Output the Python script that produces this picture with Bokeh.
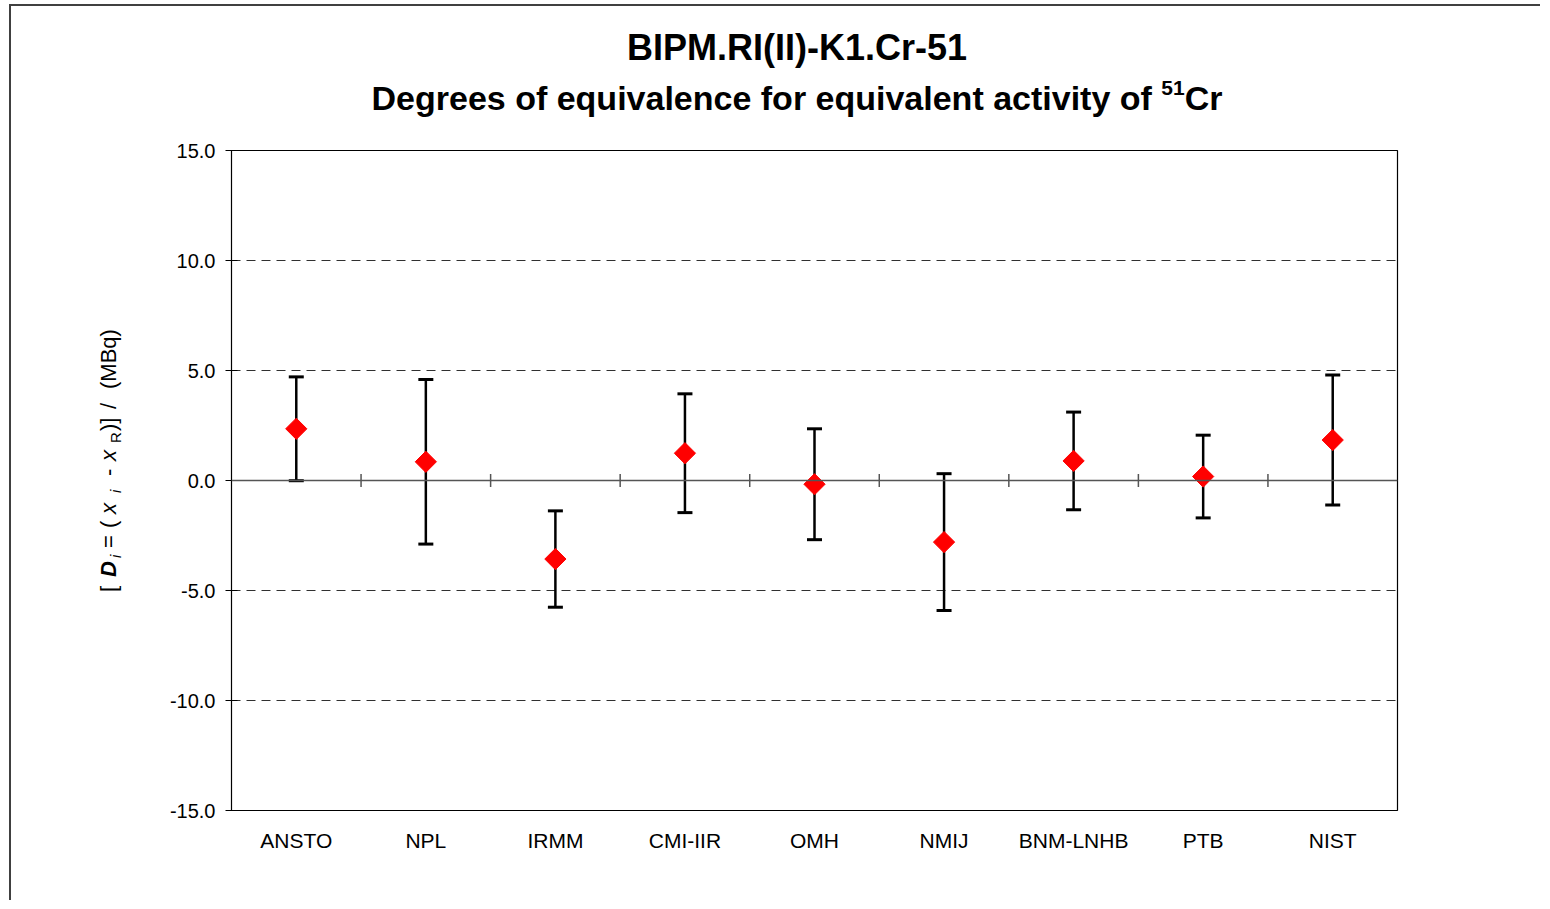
import math
from bokeh.plotting import figure
from bokeh.models import (FactorRange, Range1d, FixedTicker, PrintfTickFormatter,
                          Span, ColumnDataSource, Div)
from bokeh.layouts import column, row
from bokeh.transform import dodge
from bokeh.embed import file_html
from bokeh.resources import INLINE

# ---------------- data ----------------
categories = ["ANSTO", "NPL", "IRMM", "CMI-IIR", "OMH", "NMIJ", "BNM-LNHB", "PTB", "NIST"]
D_values = [2.35, 0.85, -3.57, 1.24, -0.17, -2.80, 0.89, 0.18, 1.84]
U_values = [2.36, 3.74, 2.19, 2.70, 2.52, 3.11, 2.22, 1.88, 2.95]
y_ticks = [-15, -10, -5, 0, 5, 10, 15]
grid_ticks = [-10, -5, 5, 10]
title1 = "BIPM.RI(II)-K1.Cr-51"
title2 = "Degrees of equivalence for equivalent activity of"
title2_sup = "51"
title2_end = "Cr"

FONT = "Liberation Sans"

lower = [d - u for d, u in zip(D_values, U_values)]
upper = [d + u for d, u in zip(D_values, U_values)]
src = ColumnDataSource(dict(cat=categories, d=D_values, lo=lower, hi=upper))
bsrc = ColumnDataSource(dict(cat=categories[1:], y=[0] * (len(categories) - 1)))

# ---------------- layout (page px) ----------------
TITLE_H = 130
YLAB_W = 150
PW, PH = 1390, 770
FRAME_L, FRAME_T, FRAME_W, FRAME_H = 231, 150, 1166, 660
BORDER = "#404040"

p = figure(x_range=FactorRange(*categories), y_range=Range1d(-15, 15),
           width=PW, height=PH, output_backend="svg", toolbar_location=None,
           min_border_left=FRAME_L - YLAB_W, min_border_top=FRAME_T - TITLE_H,
           min_border_right=PW - (FRAME_L - YLAB_W) - FRAME_W,
           min_border_bottom=PH - (FRAME_T - TITLE_H) - FRAME_H)
p.x_range.range_padding = 0
p.background_fill_color = "white"
p.border_fill_color = "white"
p.outline_line_color = "black"
p.outline_line_width = 1.2

# grid
p.xgrid.grid_line_color = None
p.ygrid.ticker = FixedTicker(ticks=grid_ticks)
p.ygrid.grid_line_color = "#303030"
p.ygrid.grid_line_dash = "9 6"
p.ygrid.grid_line_width = 1

# y axis
p.yaxis.ticker = FixedTicker(ticks=y_ticks)
p.yaxis.formatter = PrintfTickFormatter(format="%.1f")
p.yaxis.axis_line_color = "black"
p.yaxis.major_tick_line_color = "black"
p.yaxis.major_tick_in = 6
p.yaxis.major_tick_out = 6
p.yaxis.minor_tick_line_color = None
p.yaxis.major_label_standoff = 10
p.yaxis.major_label_text_font = FONT
p.yaxis.major_label_text_font_size = "20px"
p.yaxis.major_label_text_color = "black"

# x axis (labels only)
p.xaxis.axis_line_color = None
p.xaxis.major_tick_line_color = None
p.xaxis.minor_tick_line_color = None
p.xaxis.major_label_standoff = 12
p.xaxis.major_label_text_font = FONT
p.xaxis.major_label_text_font_size = "21px"
p.xaxis.major_label_text_color = "black"

# zero line with category-boundary ticks
p.add_layout(Span(location=0, dimension="width", line_color="#555555", line_width=1.5))
p.scatter(x=dodge("cat", -0.5, range=p.x_range), y="y", source=bsrc, marker="dash",
          angle=math.pi / 2, size=13, line_color="#555555", line_width=1.5)

# error bars
p.segment(x0="cat", y0="lo", x1="cat", y1="hi", source=src, line_color="black", line_width=2.5)
p.scatter(x="cat", y="lo", source=src, marker="dash", size=15, line_color="black", line_width=3)
p.scatter(x="cat", y="hi", source=src, marker="dash", size=15, line_color="black", line_width=3)

# points
p.scatter(x="cat", y="d", source=src, marker="square", angle=math.pi / 4, size=15,
          fill_color="#FF0000", line_color="#FF0000")


def top_for_baseline(baseline, size):
    return baseline - 0.8465 * size


# ---------------- title (HTML text) ----------------
T1, T2 = 36, 34
title_html = f"""
<div style="position:relative;width:{YLAB_W + PW}px;height:{TITLE_H}px;font-family:'{FONT}';color:black;">
  <div style="position:absolute;left:9px;top:4px;width:{YLAB_W + PW - 9}px;height:2px;background:{BORDER};"></div>
  <div style="position:absolute;left:9px;top:4px;width:2px;height:{TITLE_H - 4}px;background:{BORDER};"></div>
  <div style="position:absolute;left:297px;top:{top_for_baseline(60, T1):.1f}px;width:1000px;text-align:center;
              font-size:{T1}px;line-height:{T1}px;font-weight:bold;white-space:nowrap;">{title1}</div>
  <div style="position:absolute;left:297px;top:{top_for_baseline(110, T2):.1f}px;width:1000px;text-align:center;
              font-size:{T2}px;line-height:{T2}px;font-weight:bold;white-space:nowrap;">{title2}&nbsp;<span
              style="font-size:21px;position:relative;top:-15px;">{title2_sup}</span>{title2_end}</div>
</div>
"""
title_div = Div(text=title_html, width=YLAB_W + PW, height=TITLE_H, margin=0)

# ---------------- y-axis label (rotated HTML text) ----------------
X0, Y0 = 90, 593 - TITLE_H        # rotation origin (div coords)
BASE, SUB = 117 - X0, 121 - X0    # baselines along the rotated "down" direction
pieces = [  # (text, start page-y, size, style)
    ("[", 592, 22, ""),
    ("D", 577, 22, "font-weight:bold;font-style:italic;"),
    ("i", 558, 15, "font-style:italic;"),
    ("=", 548, 22, ""),
    ("(", 528, 22, ""),
    ("x", 514, 22, "font-style:italic;"),
    ("i", 493, 15, "font-style:italic;"),
    ("-", 476, 22, ""),
    ("x", 461, 22, "font-style:italic;"),
    ("R", 443, 15, ""),
    (")]", 431, 22, ""),
    ("/", 409, 22, ""),
    ("(MBq)", 389, 22, ""),
]
spans = []
for txt, start, size, style in pieces:
    base = SUB if size < 20 else BASE
    spans.append(
        f'<div style="position:absolute;left:{593 - start}px;top:{top_for_baseline(base, size):.2f}px;'
        f'font-size:{size}px;line-height:{size}px;white-space:nowrap;{style}">{txt}</div>')
ylab_html = f"""
<div style="position:relative;width:{YLAB_W}px;height:{PH}px;font-family:'{FONT}';color:black;">
  <div style="position:absolute;left:9px;top:0px;width:2px;height:{PH}px;background:{BORDER};"></div>
  <div style="position:absolute;left:{X0}px;top:{Y0}px;width:300px;height:40px;
              transform-origin:0 0;transform:rotate(-90deg);">
    {''.join(spans)}
  </div>
</div>
"""
ylab_div = Div(text=ylab_html, width=YLAB_W, height=PH, margin=0)

layout = column(title_div, row(ylab_div, p, spacing=0), spacing=0)

open("out.html", "w").write(file_html(layout, INLINE))
